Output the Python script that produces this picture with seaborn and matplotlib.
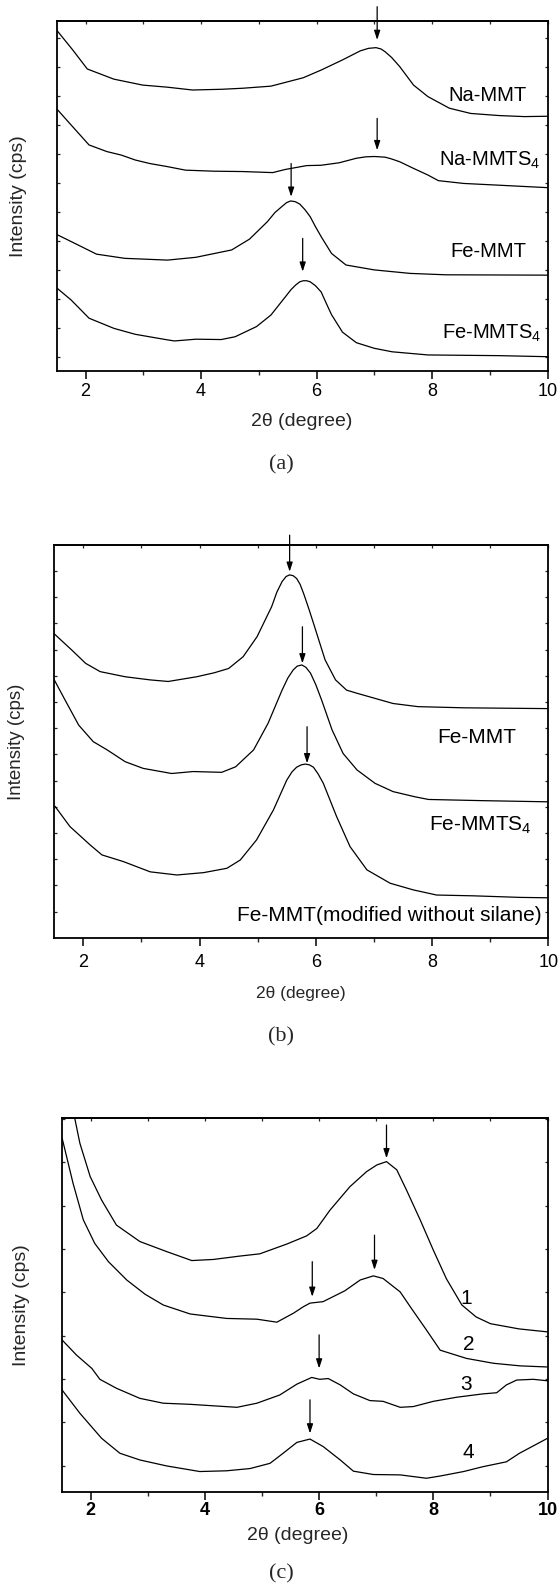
import numpy as np
import pandas as pd
import matplotlib
matplotlib.use("Agg")
import matplotlib.pyplot as plt
import seaborn as sns

# ---------------- data (arbitrary intensity units, offset curves) ----------------
# Panel (a)
a_namm_x = [1.49, 1.78, 2.03, 2.49, 2.99, 3.42, 3.85, 4.35, 4.72, 5.21, 5.77, 6.08, 6.45, 6.76, 6.90, 7.03, 7.12, 7.19, 7.30, 7.44, 7.68, 7.93, 8.30, 8.67, 9.16, 9.60, 10.0]
a_namm_y = [97.5, 91.6, 86.2, 83.3, 81.6, 81.0, 80.2, 80.4, 80.7, 81.3, 83.7, 85.9, 88.8, 91.4, 92.1, 92.3, 91.9, 91.1, 89.5, 86.9, 81.6, 78.3, 75.0, 73.5, 72.9, 72.6, 72.7]
a_nams_x = [1.49, 1.75, 2.06, 2.37, 2.62, 2.86, 3.11, 3.42, 3.73, 4.22, 4.72, 5.24, 5.46, 5.83, 6.08, 6.39, 6.69, 6.85, 7.00, 7.10, 7.19, 7.30, 7.44, 7.68, 7.93, 8.11, 8.55, 9.16, 10.0]
a_nams_y = [75.0, 70.2, 64.5, 62.6, 61.6, 60.2, 59.2, 58.3, 57.3, 57.0, 56.9, 56.6, 57.5, 58.6, 58.7, 59.4, 60.7, 61.1, 61.2, 61.1, 61.0, 60.5, 59.7, 57.8, 55.9, 54.3, 53.5, 53.0, 52.3]
a_femm_x = [1.49, 1.75, 2.19, 2.68, 3.42, 3.91, 4.53, 4.84, 5.15, 5.28, 5.40, 5.48, 5.55, 5.63, 5.71, 5.80, 5.89, 5.98, 6.08, 6.26, 6.51, 7.00, 7.62, 8.24, 10.0]
a_femm_y = [39.0, 36.9, 33.3, 32.1, 31.6, 32.4, 34.5, 37.6, 42.6, 45.2, 46.9, 48.0, 48.5, 48.3, 47.6, 46.0, 44.0, 41.2, 38.3, 33.5, 30.2, 28.8, 27.8, 27.4, 27.3]
a_fems_x = [1.49, 1.75, 2.06, 2.49, 2.86, 3.42, 3.54, 3.91, 4.35, 4.59, 4.96, 5.21, 5.46, 5.56, 5.64, 5.71, 5.77, 5.83, 5.89, 5.98, 6.08, 6.17, 6.26, 6.45, 6.69, 7.00, 7.31, 7.93, 9.16, 10.0]
a_fems_y = [23.8, 20.2, 15.0, 12.1, 10.4, 8.8, 8.5, 9.0, 8.9, 9.7, 12.6, 15.9, 21.1, 23.2, 24.5, 25.4, 25.7, 25.7, 25.4, 24.3, 22.5, 19.2, 16.0, 11.0, 8.0, 6.4, 5.4, 4.5, 4.3, 4.0]
a_labels = ["Na-MMT", "Na-MMTS$\\mathregular{_4}$", "Fe-MMT", "Fe-MMTS$\\mathregular{_4}$"]
a_label_x = [9.63, 9.88, 9.63, 9.89]
a_label_y = [78.6, 60.0, 34.0, 10.7]
a_arrow_x = [7.05, 7.05, 5.56, 5.76]
a_arrow_top = [104.0, 72.1, 59.2, 37.8]
a_arrow_tip = [94.5, 63.0, 49.7, 28.3]

# Panel (b)
b_femm_x = [1.50, 1.80, 2.04, 2.29, 2.72, 3.15, 3.46, 3.95, 4.25, 4.50, 4.75, 4.99, 5.24, 5.33, 5.42, 5.49, 5.55, 5.61, 5.67, 5.73, 5.79, 5.88, 5.98, 6.16, 6.34, 6.53, 6.71, 7.02, 7.33, 7.76, 8.56, 10.0]
b_femm_y = [77.4, 73.3, 69.9, 67.8, 66.5, 65.7, 65.3, 66.5, 67.5, 68.6, 71.6, 76.7, 84.3, 88.0, 90.7, 92.0, 92.4, 92.2, 91.5, 90.0, 87.7, 83.8, 79.2, 70.8, 65.7, 63.1, 62.3, 61.0, 59.7, 58.9, 58.6, 58.4]
b_fems_x = [1.50, 1.67, 1.92, 2.17, 2.41, 2.72, 3.03, 3.52, 3.89, 4.38, 4.62, 4.93, 5.18, 5.42, 5.52, 5.61, 5.68, 5.76, 5.83, 5.91, 6.00, 6.10, 6.28, 6.47, 6.71, 7.02, 7.33, 7.70, 7.94, 8.86, 10.0]
b_fems_y = [65.7, 61.0, 54.2, 50.0, 47.9, 44.9, 43.2, 41.9, 42.4, 42.2, 43.6, 47.9, 54.7, 63.1, 66.2, 68.2, 69.2, 69.5, 68.9, 67.4, 64.5, 60.6, 53.0, 47.0, 42.8, 39.4, 37.3, 36.0, 35.3, 35.0, 34.7]
b_fens_x = [1.51, 1.77, 2.12, 2.32, 2.69, 3.15, 3.61, 4.07, 4.47, 4.70, 4.98, 5.27, 5.50, 5.59, 5.67, 5.75, 5.82, 5.89, 5.96, 6.04, 6.13, 6.36, 6.59, 6.88, 7.28, 7.68, 8.08, 8.71, 9.52, 10.0]
b_fens_y = [33.6, 28.4, 23.7, 21.2, 19.5, 16.9, 16.1, 16.7, 17.8, 19.9, 25.0, 32.6, 40.2, 42.3, 43.5, 44.1, 44.3, 44.1, 43.5, 41.8, 39.4, 30.9, 23.3, 17.4, 14.0, 12.3, 11.0, 10.8, 10.4, 10.3]
b_labels = ["Fe-MMT", "Fe-MMTS$\\mathregular{_4}$", "Fe-MMT(modified without silane)"]
b_label_x = [9.45, 9.72, 9.88]
b_label_y = [51.1, 28.8, 5.8]
b_arrow_x = [5.55, 5.77, 5.85]
b_arrow_top = [102.5, 79.2, 53.8]
b_arrow_tip = [93.2, 69.9, 44.5]

# Panel (c)
c_s1_x = [1.68, 1.72, 1.81, 1.99, 2.19, 2.45, 2.86, 3.33, 3.77, 4.15, 4.61, 4.96, 5.43, 5.78, 5.96, 6.19, 6.54, 6.83, 7.01, 7.18, 7.36, 7.53, 7.77, 8.00, 8.23, 8.50, 8.75, 9.00, 9.50, 10.0]
c_s1_y = [104.0, 100.0, 93.3, 84.4, 78.1, 71.4, 67.0, 64.3, 61.9, 62.2, 63.1, 63.7, 66.3, 68.5, 70.5, 75.4, 81.7, 85.7, 87.5, 88.4, 86.2, 80.8, 72.8, 64.7, 57.0, 50.0, 46.8, 45.0, 43.6, 42.8]
c_s2_x = [1.50, 1.69, 1.87, 2.07, 2.31, 2.63, 2.95, 3.27, 3.74, 4.38, 4.91, 5.26, 5.55, 5.72, 5.84, 6.07, 6.45, 6.72, 6.95, 7.12, 7.42, 7.62, 7.88, 8.12, 8.58, 9.05, 9.52, 10.0]
c_s2_y = [94.6, 82.6, 72.8, 66.5, 61.6, 56.7, 52.9, 50.0, 47.6, 46.4, 46.2, 45.4, 47.8, 49.5, 50.5, 50.9, 53.8, 56.7, 57.8, 57.1, 53.5, 49.0, 43.3, 37.9, 35.7, 34.4, 33.7, 33.4]
c_s3_x = [1.50, 1.75, 2.02, 2.16, 2.45, 2.86, 3.27, 3.74, 4.15, 4.56, 4.91, 5.31, 5.61, 5.87, 6.01, 6.16, 6.37, 6.60, 6.89, 7.12, 7.42, 7.65, 8.00, 8.41, 8.87, 9.11, 9.28, 9.46, 9.75, 10.0]
c_s3_y = [40.6, 36.6, 33.0, 30.1, 27.7, 25.0, 23.7, 23.4, 23.0, 22.6, 23.7, 25.9, 28.8, 30.6, 30.1, 30.3, 28.6, 26.2, 24.4, 24.2, 22.6, 22.8, 24.2, 25.3, 26.2, 26.5, 28.6, 29.9, 30.1, 29.7]
c_s4_x = [1.50, 1.81, 2.19, 2.51, 2.86, 3.33, 3.91, 4.38, 4.79, 5.14, 5.37, 5.61, 5.84, 6.07, 6.37, 6.60, 6.95, 7.42, 7.88, 8.12, 8.53, 8.87, 9.28, 9.51, 10.0]
c_s4_y = [27.2, 21.0, 14.3, 10.3, 8.5, 6.9, 5.4, 5.6, 6.2, 7.6, 10.3, 13.2, 14.1, 12.1, 8.5, 5.5, 4.6, 4.5, 3.6, 4.2, 5.4, 6.7, 8.0, 10.3, 14.3]
c_labels = ["1", "2", "3", "4"]
c_label_x = [8.58, 8.62, 8.58, 8.62]
c_label_y = [51.8, 39.3, 28.8, 10.4]
c_arrow_x = [7.18, 6.97, 5.88, 6.00, 5.84]
c_arrow_top = [98.2, 68.7, 61.6, 42.0, 24.6]
c_arrow_tip = [89.3, 59.4, 52.2, 33.0, 15.6]

xtick_major = [2, 4, 6, 8, 10]
xtick_minor = [3, 5, 7, 9]
a_yticks = [3.8 + 8.29 * k for k in range(12)]
b_yticks = [6.8 + 6.66 * k for k in range(14)]
c_yticks = [7.0 + 11.6 * k for k in range(9)]

# ---------------- style ----------------
sns.set_theme(style="ticks")
plt.rcParams["font.family"] = ["Liberation Sans", "DejaVu Sans"]
plt.rcParams["mathtext.fontset"] = "custom"
plt.rcParams["mathtext.rm"] = "Liberation Sans"
plt.rcParams["mathtext.it"] = "Liberation Sans:italic"
plt.rcParams["mathtext.bf"] = "Liberation Sans:bold"

W, H = 559, 1588
fig = plt.figure(figsize=(W / 100, H / 100), dpi=100)
fig.patch.set_facecolor("white")


def px_axes(l, t, r, b):
    return fig.add_axes([l / W, 1 - b / H, (r - l) / W, (b - t) / H])


def style_axes(ax, yticks, ylim, bold=False, pad=3.5):
    ax.set_xlim(1.5, 10)
    ax.set_ylim(*ylim)
    ax.set_facecolor("white")
    for s in ax.spines.values():
        s.set_visible(True)
        s.set_linewidth(1.3)
        s.set_color("black")
    ax.set_xticks(xtick_major)
    ax.set_xticks(xtick_minor, minor=True)
    ax.set_xticklabels([str(v) for v in xtick_major],
                       fontsize=13, fontweight="bold" if bold else "normal")
    ax.tick_params(axis="x", which="major", direction="out", length=5.5, width=1.1,
                   bottom=True, top=False, pad=pad, colors="black")
    ax.tick_params(axis="x", which="minor", direction="out", length=3.2, width=1.0,
                   bottom=True, top=False)
    ax.set_yticks(yticks)
    ax.set_yticklabels([])
    ax.tick_params(axis="y", which="major", direction="in", length=2, width=0.9,
                   left=True, right=True)
    ax.tick_params(axis="y", which="minor", left=False, right=False)
    top = ax.secondary_xaxis("top")
    top.set_xticks(xtick_major)
    top.set_xticks(xtick_minor, minor=True)
    top.set_xticklabels([])
    top.tick_params(axis="x", which="both", direction="in", length=2, width=0.9)
    top.spines["top"].set_linewidth(1.3)
    ax.set_xlabel("")
    ax.set_ylabel("")


def draw_curve(ax, xs, ys):
    df = pd.DataFrame({"x": xs, "y": ys})
    sns.lineplot(data=df, x="x", y="y", ax=ax, color="black", linewidth=0.9,
                 estimator=None, sort=False)


def draw_arrows(ax, xs, tops, tips):
    for x, t, p in zip(xs, tops, tips):
        ax.annotate("", xy=(x, p), xytext=(x, t),
                    arrowprops=dict(arrowstyle="-|>,head_length=0.55,head_width=0.18",
                                    color="black", lw=0.9, mutation_scale=10,
                                    shrinkA=0, shrinkB=0),
                    annotation_clip=False)


# ---------------- panel (a) ----------------
ax_a = px_axes(56.7, 20.7, 547.5, 370.7)
for xs, ys in [(a_namm_x, a_namm_y), (a_nams_x, a_nams_y), (a_femm_x, a_femm_y), (a_fems_x, a_fems_y)]:
    draw_curve(ax_a, xs, ys)
style_axes(ax_a, a_yticks, (0, 100), pad=3.5)
draw_arrows(ax_a, a_arrow_x, a_arrow_top, a_arrow_tip)
for t, x, y in zip(a_labels, a_label_x, a_label_y):
    ax_a.text(x, y, t, ha="right", va="center", fontsize=14.5, color="black")

fig.text(18.5 / W, 1 - 195.7 / H, "Intensity (cps)", rotation=90, ha="center", va="center", fontsize=14)
fig.text(302 / W, 1 - 422 / H, "2θ (degree)", ha="center", va="center", fontsize=14)
fig.text(281.6 / W, 1 - 465 / H, "(a)", ha="center", va="center", fontsize=16,
         family=["Liberation Serif", "DejaVu Serif"])

# ---------------- panel (b) ----------------
ax_b = px_axes(54.3, 545, 548.2, 938.3)
for xs, ys in [(b_femm_x, b_femm_y), (b_fems_x, b_fems_y), (b_fens_x, b_fens_y)]:
    draw_curve(ax_b, xs, ys)
style_axes(ax_b, b_yticks, (0, 100), pad=5.5)
draw_arrows(ax_b, b_arrow_x, b_arrow_top, b_arrow_tip)
for t, x, y in zip(b_labels, b_label_x, b_label_y):
    ax_b.text(x, y, t, ha="right", va="center", fontsize=15, color="black")

fig.text(17 / W, 1 - 741.7 / H, "Intensity (cps)", rotation=90, ha="center", va="center", fontsize=13.5)
fig.text(301 / W, 1 - 994 / H, "2θ (degree)", ha="center", va="center", fontsize=12.5)
fig.text(281 / W, 1 - 1036.7 / H, "(b)", ha="center", va="center", fontsize=16,
         family=["Liberation Serif", "DejaVu Serif"])

# ---------------- panel (c) ----------------
ax_c = px_axes(62.2, 1118.3, 547.5, 1491.7)
for xs, ys in [(c_s1_x, c_s1_y), (c_s2_x, c_s2_y), (c_s3_x, c_s3_y), (c_s4_x, c_s4_y)]:
    draw_curve(ax_c, xs, ys)
style_axes(ax_c, c_yticks, (0, 100), bold=True, pad=2)
draw_arrows(ax_c, c_arrow_x, c_arrow_top, c_arrow_tip)
for t, x, y in zip(c_labels, c_label_x, c_label_y):
    ax_c.text(x, y, t, ha="center", va="center", fontsize=15, color="black")

fig.text(22 / W, 1 - 1305 / H, "Intensity (cps)", rotation=90, ha="center", va="center", fontsize=14)
fig.text(297.5 / W, 1 - 1536 / H, "2θ (degree)", ha="center", va="center", fontsize=14)
fig.text(281 / W, 1 - 1574 / H, "(c)", ha="center", va="center", fontsize=16,
         family=["Liberation Serif", "DejaVu Serif"])

fig.savefig("out.png", dpi=100, facecolor="white")
